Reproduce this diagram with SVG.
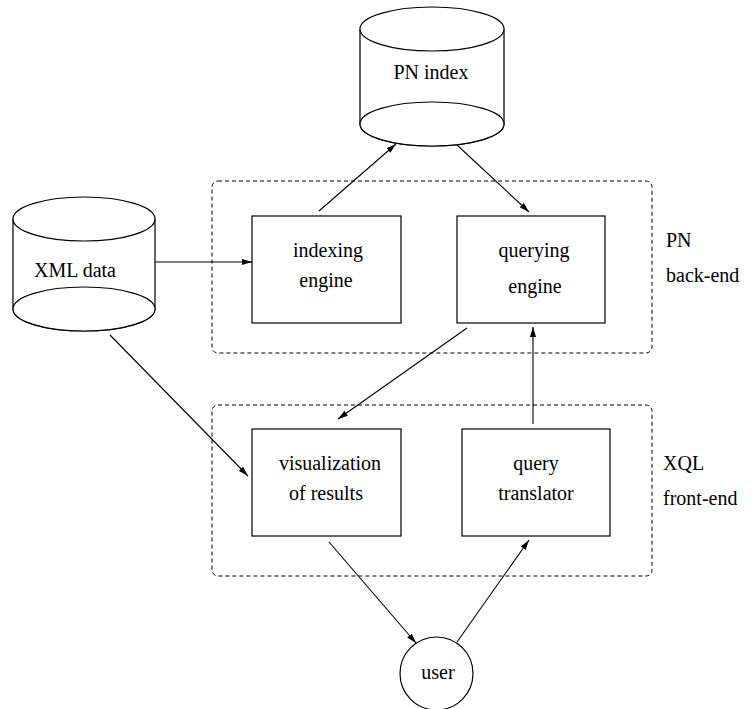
<svg xmlns="http://www.w3.org/2000/svg" width="755" height="709" viewBox="0 0 755 709">
  <style>
    .shape { fill: #ffffff; stroke: #000000; stroke-width: 1.2; }
    .group { fill: none; stroke: #000000; stroke-width: 1; stroke-dasharray: 4 3; }
    .edge { fill: none; stroke: #000000; stroke-width: 1.1; }
    .arrow { marker-end: url(#head); }
    text { font-family: "Liberation Serif", "Times New Roman", serif; font-size: 20px; fill: #000000; }
    .c { text-anchor: middle; }
  </style>
  <defs>
    <marker id="head" viewBox="0 0 10 6" refX="10" refY="3" markerWidth="10" markerHeight="6" markerUnits="userSpaceOnUse" orient="auto">
      <path d="M0,0 L10,3 L0,6 z" fill="#000000"/>
    </marker>
  </defs>

  <rect width="755" height="709" fill="#ffffff"/>

  <!-- subsystem frames -->
  <g id="backend-frame">
    <rect class="group" x="212" y="181" width="440" height="172" rx="6"/>
    <text x="666" y="247">PN</text>
    <text x="666" y="282">back-end</text>
  </g>
  <g id="frontend-frame">
    <rect class="group" x="212" y="405" width="440" height="171" rx="6"/>
    <text x="663" y="470">XQL</text>
    <text x="663" y="505">front-end</text>
  </g>

  <!-- connectors -->
  <g id="connectors">
    <line class="edge arrow" x1="155" y1="262" x2="252" y2="262"/>
    <line class="edge arrow" x1="319" y1="211" x2="396" y2="144"/>
    <line class="edge arrow" x1="457" y1="145" x2="529" y2="212"/>
    <line class="edge arrow" x1="467" y1="328" x2="338" y2="419"/>
    <line class="edge arrow" x1="533" y1="424" x2="533" y2="327"/>
    <line class="edge arrow" x1="110" y1="335" x2="248" y2="476"/>
    <line class="edge arrow" x1="329" y1="542" x2="416" y2="643"/>
    <line class="edge arrow" x1="457" y1="642" x2="529" y2="540"/>
  </g>

  <!-- storage -->
  <g id="pn-index">
    <path class="shape" d="M360,29 L360,124 A72,22 0 0 0 504,124 L504,29"/>
    <ellipse class="shape" cx="432" cy="124" rx="72" ry="22"/>
    <ellipse class="shape" cx="432" cy="29" rx="72" ry="22"/>
    <text class="c" x="431" y="79">PN index</text>
  </g>
  <g id="xml-data">
    <path class="shape" d="M13,219 L13,309 A71,22 0 0 0 155,309 L155,219"/>
    <ellipse class="shape" cx="84" cy="309" rx="71" ry="22"/>
    <ellipse class="shape" cx="84" cy="219" rx="71" ry="22"/>
    <text class="c" x="75" y="277">XML data</text>
  </g>

  <!-- back-end components -->
  <g id="indexing-engine">
    <rect class="shape" x="252" y="216" width="149" height="107"/>
    <text class="c" x="328" y="257">indexing</text>
    <text class="c" x="326" y="287">engine</text>
  </g>
  <g id="querying-engine">
    <rect class="shape" x="457" y="216" width="148" height="107"/>
    <text class="c" x="534" y="257">querying</text>
    <text class="c" x="535" y="293">engine</text>
  </g>

  <!-- front-end components -->
  <g id="visualization">
    <rect class="shape" x="252" y="429" width="149" height="107"/>
    <text class="c" x="330" y="470">visualization</text>
    <text class="c" x="326" y="500">of results</text>
  </g>
  <g id="query-translator">
    <rect class="shape" x="462" y="429" width="148" height="107"/>
    <text class="c" x="536" y="470">query</text>
    <text class="c" x="536" y="500">translator</text>
  </g>

  <!-- user -->
  <g id="user">
    <circle class="shape" cx="436.5" cy="673.5" r="36.5"/>
    <text class="c" x="438" y="679">user</text>
  </g>
</svg>
